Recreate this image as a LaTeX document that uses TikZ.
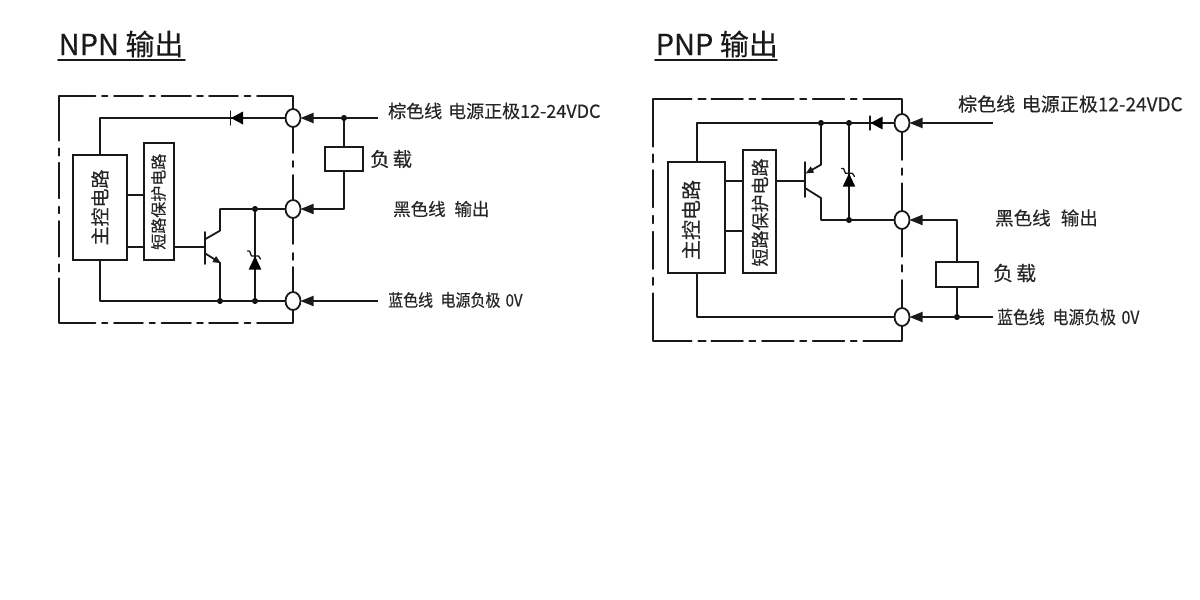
\documentclass[tikz,border=0pt]{standalone}
\usepackage{graphicx}
\usepackage{fontspec}
\setmainfont{Noto Sans CJK SC}[FakeBold=0.25]
\usetikzlibrary{arrows.meta,shapes.geometric}
\tikzset{
  wire/.style={line width=1.8pt,line cap=round,line join=round,black!90},
  arrowwire/.style={wire,line cap=butt,-{Triangle[length=13pt,width=10pt]}},
  port/.style={ellipse,draw=black!90,line width=1.8pt,fill=white,inner sep=0pt,outer sep=0pt,minimum width=15pt,minimum height=18pt},
  dotnode/.style={circle,fill=black,inner sep=0pt,minimum size=6pt},
  box/.style={rectangle,draw=black!90,line width=1.8pt,inner sep=0pt,outer sep=0pt,fill=white},
  lab/.style={anchor=west,inner sep=0pt,text=black!85},
  title/.style={anchor=west,inner sep=0pt,font=\fontsize{29}{30}\selectfont,text=black!90},
  vtext/.style={rotate=90,inner sep=0pt,text=black!85}
}
\newcommand{\fs}[1]{\fontsize{#1}{#1}\selectfont}
\begin{document}
\begin{tikzpicture}[x=1pt,y=-1pt]
\useasboundingbox[fill=white] (0,0) rectangle (1200,600);
%% ---------- NPN ----------
\node[title] (t1) at (58.5,44) {NPN 输出};
\draw[wire] (58,60) -- (185,60);
% frame
\draw[wire] (95.5,96) -- (59,96) -- (59,140.7) (59,148.3)--(59,155.7) (59,162.7)--(59,198.3) (59,206.7)--(59,213.3) (59,221)--(59,256.7) (59,264.3)--(59,271.7) (59,278.3)--(59,323) -- (95.5,323);
\foreach \y in {96,323}{
 \draw[wire] (102,\y)--(107.5,\y) (114,\y)--(143,\y) (149.5,\y)--(155,\y) (161.5,\y)--(191,\y) (197,\y)--(203,\y) (209,\y)--(238,\y) (244.5,\y)--(250.5,\y);}
\draw[wire] (257,96) -- (293,96) -- (293,153) (293,161)--(293,167) (293,175)--(293,244) (293,253)--(293,260) (293,267)--(293,323) -- (257,323);
% nodes
\node[box,minimum width=54pt,minimum height=105pt] (m1) at (100,207.5) {};
\node[vtext,font=\fs{19}] at (m1.center) {主控电路};
\node[box,minimum width=30pt,minimum height=117pt] (s1) at (159,201.5) {};
\node[vtext,font=\fs{16}] at (158.5,201.7) {短路保护电路};
\node[port] (p1a) at (293,118) {};
\node[port] (p1b) at (293,209) {};
\node[port] (p1c) at (293,301) {};
\node[box,minimum width=38pt,minimum height=24pt] (l1) at (344,159) {};
\node[dotnode] (d1a) at (344,118) {};
\node[dotnode] (d1b) at (255,209) {};
\node[dotnode] (d1c) at (255,301) {};
\node[dotnode] (d1d) at (220,301) {};
\coordinate (c1) at (220,209);
\coordinate (e1) at (378,118);
\coordinate (e2) at (344,209);
\coordinate (e3) at (378,301);
% wires
\draw[wire] (100,155) -- (100,118) -- (p1a.west);
\draw[wire] (100,260) -- (100,301) -- (p1c.west);
\draw[wire] (127,195) -- (144,195);
\draw[wire] (127,247) -- (144,247);
\draw[wire] (174,247) -- (205,247);
\draw[wire] (205,239.3) -- (220,230.7) -- (c1) -- (p1b.west);
\draw[wire,line cap=butt,-{Triangle[length=8pt,width=6.5pt]}] (205,253.3) -- (221,263.3);
\draw[wire] (220,262.7) -- (d1d);
\draw[wire] (d1b) -- (d1c);
\draw[wire] (205,232) -- (205,264);
\draw[arrowwire] (e1) -- (p1a.east);
\draw[arrowwire] (e2) -- (p1b.east);
\draw[arrowwire] (e3) -- (p1c.east);
\draw[wire] (d1a) -- (l1.north);
\draw[wire] (l1.south) -- (e2);
% diode
\fill (231,118) -- (243,111.5) -- (243,124.5) -- cycle;
\draw[wire,line width=1.3pt] (230.5,111) -- (230.5,125);
% zener
\fill (255,256) -- (248.7,269.5) -- (261.3,269.5) -- cycle;
\draw[wire,line width=1.3pt] (247.5,251) -- (249.5,251) -- (251.5,256) -- (258.5,256) -- (260.5,259);
% labels
\node[lab,font=\fs{18}] (a1) at (388,111) {棕色线\hspace{0.33em}电源正极12-24VDC};
\node[lab,font=\fs{19.5}] (a2) at (370,159) {负\hspace{0.15em}载};
\node[lab,font=\fs{17.5}] (a3) at (393,209) {黑色线\hspace{0.5em}输出};
\node[lab,font=\fs{17}] (a4) at (388,300) {\scalebox{0.88}[1]{蓝色线\hspace{0.5em}电源负极\hspace{0.35em}0V}};
%% ---------- PNP ----------
\node[title] (t2) at (655.5,44) {PNP 输出};
\draw[wire] (655,60) -- (777,60);
\draw[wire] (691.7,99) -- (653,99) -- (653,146.7) (653,154.3)--(653,162.3) (653,170)--(653,207.3) (653,215.7)--(653,223.3) (653,231.7)--(653,269) (653,277.7)--(653,285) (653,293.3)--(653,341) -- (691.7,341);
\foreach \y in {99,341}{
 \draw[wire] (698.3,\y)--(705.7,\y) (711.3,\y)--(743,\y) (749.3,\y)--(755.3,\y) (762,\y)--(793.7,\y) (800,\y)--(806.3,\y) (812.7,\y)--(844.3,\y) (850.7,\y)--(856.7,\y);}
\draw[wire] (863.3,99) -- (902,99) -- (902,160) (902,168.3)--(902,175) (902,183.3)--(902,256.7) (902,265)--(902,271.7) (902,280)--(902,341) -- (863.3,341);
\node[box,minimum width=57pt,minimum height=111pt] (m2) at (696.5,217.5) {};
\node[vtext,font=\fs{20}] at (691,220) {主控电路};
\node[box,minimum width=33pt,minimum height=123pt] (s2) at (759.5,211.5) {};
\node[vtext,font=\fs{18}] at (760,212.5) {短路保护电路};
\node[port] (p2a) at (902,123) {};
\node[port] (p2b) at (902,220) {};
\node[port] (p2c) at (902,317) {};
\node[box,minimum width=42pt,minimum height=25pt] (l2) at (957,274.5) {};
\node[dotnode] (d2a) at (821,123) {};
\node[dotnode] (d2b) at (849,123) {};
\node[dotnode] (d2c) at (849,220) {};
\node[dotnode] (d2d) at (957,317) {};
\coordinate (c2) at (821,220);
\coordinate (f1) at (993,123);
\coordinate (f2) at (957,220);
\coordinate (f3) at (993,317);
\draw[wire] (697,162) -- (697,123) -- (p2a.west);
\draw[wire] (697,273) -- (697,317) -- (p2c.west);
\draw[wire] (725,181) -- (743,181);
\draw[wire] (725,231) -- (743,231);
\draw[wire] (776,181) -- (805,181);
\draw[wire] (805,162) -- (805,197);
\draw[wire] (d2a) -- (821,164.7);
\draw[wire,line cap=butt,-{Triangle[length=8pt,width=6.5pt]}] (821,164.7) -- (805.5,173.5);
\draw[wire] (805,188) -- (821,198) -- (c2) -- (p2b.west);
\draw[wire] (d2b) -- (d2c);
\draw[arrowwire] (f1) -- (p2a.east);
\draw[arrowwire] (f2) -- (p2b.east);
\draw[arrowwire] (f3) -- (p2c.east);
\draw[wire] (f2) -- (l2.north);
\draw[wire] (l2.south) -- (d2d);
\fill (870.5,123) -- (882.7,116.5) -- (882.7,129.5) -- cycle;
\draw[wire,line width=1.3pt] (870,116) -- (870,130);
\fill (849,173.3) -- (842.7,186.7) -- (855.3,186.7) -- cycle;
\draw[wire,line width=1.3pt] (841.5,168.5) -- (843.5,168.5) -- (845.5,173.3) -- (852.5,173.3) -- (854.5,176.5);
\node[lab,font=\fs{19}] (b1) at (958,104) {棕色线\hspace{0.35em}电源正极12-24VDC};
\node[lab,font=\fs{20}] (b2) at (993,273) {负\hspace{0.15em}载};
\node[lab,font=\fs{18.5}] (b3) at (995,218) {黑色线\hspace{0.55em}输出};
\node[lab,font=\fs{18}] (b4) at (997,317) {\scalebox{0.88}[1]{蓝色线\hspace{0.5em}电源负极\hspace{0.35em}0V}};
\end{tikzpicture}
\end{document}
